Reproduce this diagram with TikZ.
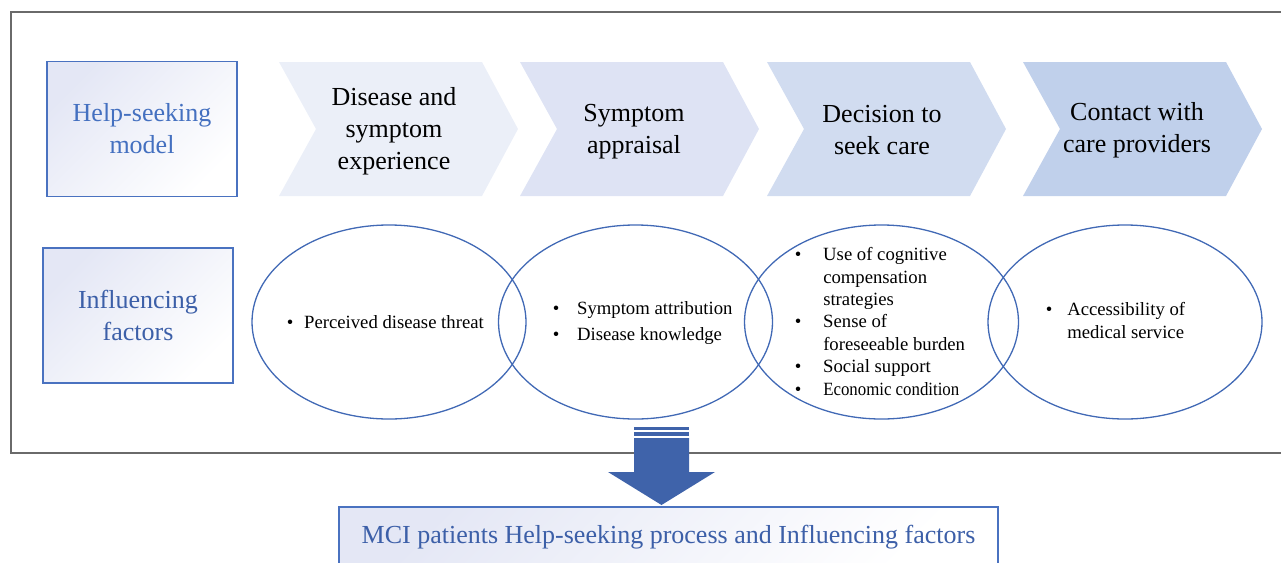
\documentclass[tikz,border=0pt]{standalone}
\usepackage{fontspec}
\setmainfont{Liberation Serif}
\usetikzlibrary{shapes.geometric}

\definecolor{framegray}{HTML}{6A6A6A}
\definecolor{boxblue}{HTML}{4A72C0}
\definecolor{labelblue}{HTML}{4470C0}
\definecolor{darklabel}{HTML}{3C5FA8}
\definecolor{lavender}{HTML}{E4E7F5}
\definecolor{ringblue}{HTML}{4169B5}
\definecolor{arrowblue}{HTML}{3F63AA}
\definecolor{stageA}{HTML}{EBEFF8}
\definecolor{stageB}{HTML}{DEE3F4}
\definecolor{stageC}{HTML}{D1DCF0}
\definecolor{stageD}{HTML}{C0D0EB}

% chevron: left x, fill colour (top 62, bottom 196)
\newcommand\stagechevron[2]{%
  \fill[#2] (#1,62) -- ++(203,0) -- ++(36,67) -- ++(-36,67) -- ++(-203,0) -- ++(37,-67) -- cycle;}

\begin{document}
\begin{tikzpicture}[x=1pt,y=-1pt,
  labelbox/.style={draw=boxblue, line width=1.3pt, top color=lavender, bottom color=white,
    shading angle=45, minimum width=190pt, minimum height=135pt, inner sep=0pt,
    align=center, font=\fontsize{26}{32}\selectfont},
  stagetext/.style={align=center, inner sep=0pt, font=\fontsize{26}{32}\selectfont},
  ring/.style={ellipse, draw=ringblue, line width=1.3pt, minimum width=274pt,
    minimum height=194pt, inner sep=0pt},
  factors/.style={anchor=west, inner sep=0pt, align=left},
]
\useasboundingbox (0,0) rectangle (1281,562);
\clip (0,0) rectangle (1281,562);

% outer frame
\draw[framegray, line width=1.6pt] (11,12) rectangle (1300,453);

% row labels
\node[labelbox, text=labelblue] (model) at (142,129) {Help-seeking\\model};
\node[labelbox, text=darklabel] (infl) at (138,315.5) {Influencing\\factors};

% process stages
\stagechevron{279}{stageA}
\stagechevron{520}{stageB}
\stagechevron{767}{stageC}
\stagechevron{1023}{stageD}
\node[stagetext] (s1) at (394,131.5) {Disease and\\symptom\\experience};
\node[stagetext] (s2) at (634,132) {Symptom\\appraisal};
\node[stagetext] (s3) at (882,130) {Decision to\\seek care};
\node[stagetext] (s4) at (1137,130.5) {Contact with\\care providers};

% influencing factors
\node[ring] (r1) at (389,322) {};
\node[ring] (r2) at (635.5,322) {};
\node[ring] (r3) at (881.5,322) {};
\node[ring] (r4) at (1125,322) {};

\node[factors, font=\fontsize{18.7}{22.4}\selectfont] (f1) at (286.7,324)
  {\begin{tabular}{@{}l@{\hspace{10.7pt}}l@{}}•&Perceived disease threat\end{tabular}};
\node[factors, font=\fontsize{18.7}{26}\selectfont] (f2) at (552.7,322.5)
  {\begin{tabular}{@{}l@{\hspace{17.7pt}}l@{}}•&Symptom attribution\\•&Disease knowledge\end{tabular}};
\node[factors, font=\fontsize{18.7}{22.4}\selectfont] (f3) at (794.7,323.5)
  {\begin{tabular}{@{}l@{\hspace{21.8pt}}l@{}}•&Use of cognitive\\&compensation\\&strategies\\
   •&Sense of\\&foreseeable burden\\•&Social support\\•&\scalebox{0.9}[1]{Economic condition}\end{tabular}};
\node[factors, font=\fontsize{18.7}{22.4}\selectfont] (f4) at (1045.7,322.5)
  {\begin{tabular}{@{}l@{\hspace{14.8pt}}l@{}}•&Accessibility of\\&medical service\end{tabular}};

% block arrow down to the summary
\fill[arrowblue] (634,427) rectangle (689,430);
\fill[arrowblue] (634,432) rectangle (689,436);
\fill[arrowblue] (634,438) -- (689,438) -- (689,472) -- (715,472) -- (661.5,505)
  -- (608,472) -- (634,472) -- cycle;

% summary box
\node[labelbox, text=darklabel, minimum width=659pt, minimum height=60pt,
  top color=white, bottom color=lavender, shading angle=-135] (sum) at (668.5,537)
  {MCI patients Help-seeking process and Influencing factors};
\end{tikzpicture}
\end{document}
